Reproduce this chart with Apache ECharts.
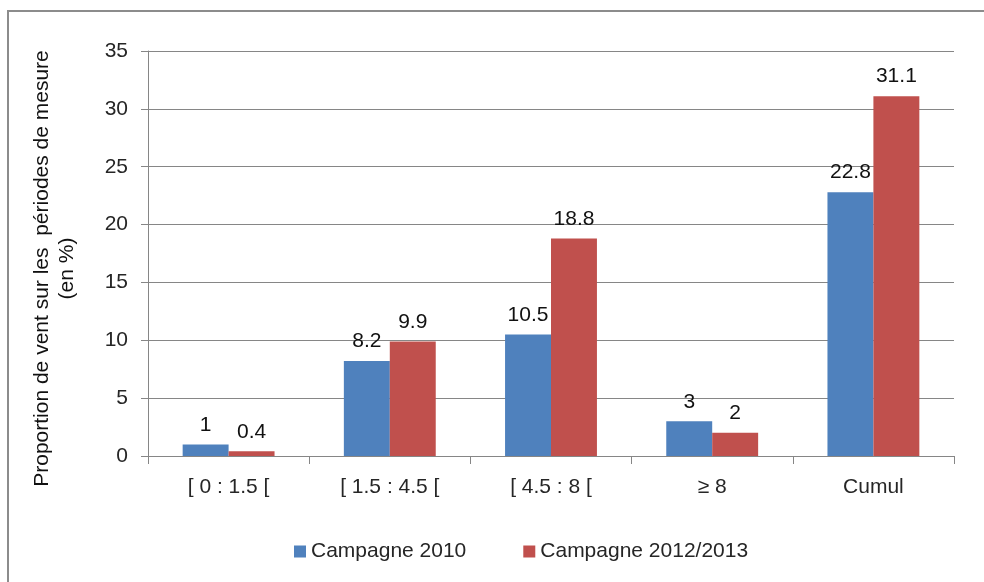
<!DOCTYPE html>
<html>
<head>
<meta charset="utf-8">
<script src="https://cdn.jsdelivr.net/npm/echarts@6/dist/echarts.min.js"></script>
<style>
  html, body { margin: 0; padding: 0; background: #fff; }
  #chart { width: 984px; height: 582px; }
</style>
</head>
<body>
<div id="chart"></div>
<script>
// data
const categories = ["[ 0 : 1.5 [", "[ 1.5 : 4.5 [", "[ 4.5 : 8 [", "\u2265 8", "Cumul"];
const campagne2010 = [1, 8.2, 10.5, 3, 22.8];
const campagne2012 = [0.4, 9.9, 18.8, 2, 31.1];
const seriesNames = ["Campagne 2010", "Campagne 2012/2013"];

const font = "Liberation Sans";
const fs = 21;
const chart = echarts.init(document.getElementById("chart"));

chart.setOption({
  animation: false,
  backgroundColor: "#fff",
  textStyle: { fontFamily: font },
  graphic: [
    {
      type: "rect",
      shape: { x: 8, y: 11, width: 1000, height: 600 },
      style: { fill: "none", stroke: "#8c8c8c", lineWidth: 2 }
    }
  ],
  grid: { left: 148, right: 30, top: 51, bottom: 126 },
  legend: {
    bottom: 15,
    left: 289,
    itemWidth: 12,
    itemHeight: 12,
    itemGap: 57,
    icon: "rect",
    textStyle: { fontSize: fs, color: "#262626", fontFamily: font },
    data: seriesNames
  },
  xAxis: {
    type: "category",
    data: categories,
    axisLine: { lineStyle: { color: "#868686" } },
    axisTick: { show: true, length: 8, lineStyle: { color: "#868686" } },
    axisLabel: { fontSize: fs, color: "#262626", margin: 21, fontFamily: font }
  },
  yAxis: {
    type: "value",
    min: 0,
    max: 35,
    interval: 5,
    name: "Proportion de vent sur les  p\u00e9riodes de mesure\n(en %)",
    nameLocation: "middle",
    nameGap: 68,
    nameRotate: 90,
    nameTextStyle: { fontSize: fs, color: "#111", lineHeight: 25, fontFamily: font, padding: [0, 30, 0, 0] },
    axisLine: { show: true, lineStyle: { color: "#868686" } },
    axisTick: { show: true, length: 7, lineStyle: { color: "#868686" } },
    axisLabel: { fontSize: fs, color: "#262626", margin: 20, fontFamily: font },
    splitLine: { lineStyle: { color: "#868686" } }
  },
  series: [
    {
      name: seriesNames[0],
      type: "bar",
      data: campagne2010,
      barGap: "0%",
      barCategoryGap: "43%",
      itemStyle: { color: "#4F81BD" },
      label: { show: true, position: "top", distance: 9, fontSize: fs, color: "#111", fontFamily: font }
    },
    {
      name: seriesNames[1],
      type: "bar",
      data: campagne2012,
      itemStyle: { color: "#C0504D" },
      label: { show: true, position: "top", distance: 9, fontSize: fs, color: "#111", fontFamily: font }
    }
  ]
});
</script>
</body>
</html>
